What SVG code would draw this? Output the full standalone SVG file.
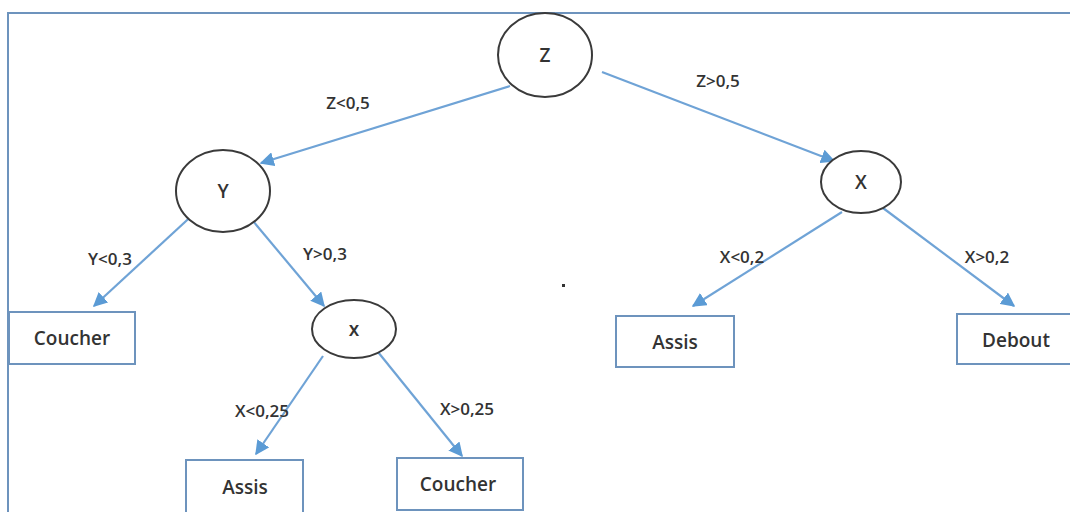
<svg xmlns="http://www.w3.org/2000/svg" width="1070" height="512" viewBox="0 0 1070 512">
<defs>
<marker id="ah" viewBox="0 0 10 10" refX="9" refY="5" markerWidth="6.5" markerHeight="6.5" orient="auto" markerUnits="strokeWidth">
<path d="M0,0 L10,5 L0,10 z" fill="#5b9bd5"/>
</marker>
<style>
.ell{fill:#fff;stroke:#3a3a3a;stroke-width:2}
.box{fill:#fff;stroke:#6d93bd;stroke-width:2}
.edge{stroke:#6fa3d6;stroke-width:2.2;fill:none;marker-end:url(#ah)}
.t{font-family:"Open Sans","Liberation Sans",sans-serif;fill:#333;text-anchor:middle;font-weight:600}
.lbl{font-size:17px}
.nt{font-size:19px}
</style>
</defs>
<rect width="1070" height="512" fill="#fff"/>
<path d="M8,512 L8,13 L1070,13" fill="none" stroke="#6d93bd" stroke-width="2"/>
<g id="connectors">
<line class="edge" x1="510" y1="86" x2="261" y2="163"/>
<line class="edge" x1="602" y1="72" x2="834" y2="161"/>
<line class="edge" x1="198" y1="210" x2="94" y2="306"/>
<line class="edge" x1="243" y1="209" x2="324" y2="306"/>
<line class="edge" x1="842" y1="212" x2="693" y2="306"/>
<line class="edge" x1="883" y1="208" x2="1014" y2="306"/>
<line class="edge" x1="323" y1="356" x2="256" y2="454"/>
<line class="edge" x1="378" y1="352" x2="462" y2="456"/>
</g>
<g id="labels">
<text class="t lbl" x="348" y="109">Z&lt;0,5</text>
<text class="t lbl" x="718" y="87">Z&gt;0,5</text>
<text class="t lbl" x="110" y="265">Y&lt;0,3</text>
<text class="t lbl" x="325" y="260">Y&gt;0,3</text>
<text class="t lbl" x="742" y="263">X&lt;0,2</text>
<text class="t lbl" x="987" y="263">X&gt;0,2</text>
<text class="t lbl" x="262" y="417">X&lt;0,25</text>
<text class="t lbl" x="467" y="415">X&gt;0,25</text>
</g>
<g id="node-z">
<ellipse class="ell" cx="545" cy="55" rx="47" ry="42"/>
<text class="t nt" x="545" y="62">Z</text>
</g>
<g id="node-y">
<ellipse class="ell" cx="223" cy="191" rx="47" ry="41"/>
<text class="t nt" x="223" y="198">Y</text>
</g>
<g id="node-X">
<ellipse class="ell" cx="861" cy="182" rx="40" ry="31"/>
<text class="t nt" x="861" y="189">X</text>
</g>
<g id="node-x">
<ellipse class="ell" cx="354" cy="329" rx="42" ry="29"/>
<text class="t nt" x="354" y="336">x</text>
</g>
<g id="node-couchant1">
<rect class="box" x="9" y="312" width="126" height="52"/>
<text class="t nt" x="72" y="345">Coucher</text>
</g>
<g id="node-assis1">
<rect class="box" x="616" y="316" width="118" height="51"/>
<text class="t nt" x="675" y="349">Assis</text>
</g>
<g id="node-debout">
<rect class="box" x="957" y="314" width="120" height="50"/>
<text class="t nt" x="1016" y="347">Debout</text>
</g>
<g id="node-assis2">
<rect class="box" x="186" y="460" width="117" height="56"/>
<text class="t nt" x="245" y="494">Assis</text>
</g>
<g id="node-couchant2">
<rect class="box" x="397" y="458" width="126" height="52"/>
<text class="t nt" x="458" y="491">Coucher</text>
</g>
<rect x="562" y="284" width="3" height="3" fill="#333"/>
</svg>
